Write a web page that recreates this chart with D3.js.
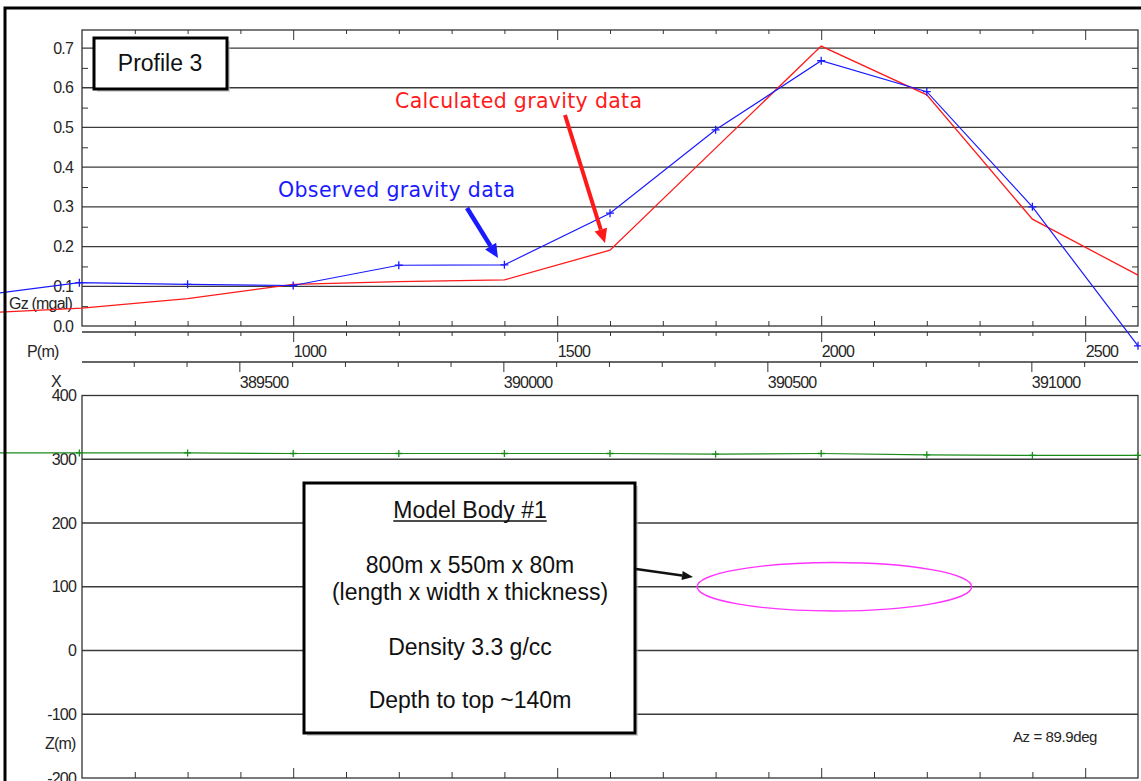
<!DOCTYPE html>
<html>
<head>
<meta charset="utf-8">
<script src="https://cdn.jsdelivr.net/npm/d3@7"></script>
<style>
  body { margin: 0; background: #fff; }
  svg { display: block; }
  .ax text { font-family: "Liberation Sans", Arial, sans-serif; font-size: 16px; letter-spacing: -0.8px; fill: #262626; }
  .ax line { stroke: #333; }
  .lbl { font-family: "Liberation Sans", Arial, sans-serif; font-size: 16px; letter-spacing: -0.8px; fill: #262626; }
  .note { font-family: "Liberation Sans", Arial, sans-serif; fill: #111; }
  .callout { font-family: "DejaVu Sans", Verdana, sans-serif; font-size: 20.5px; }
</style>
</head>
<body>
<div id="chart"></div>
<script>
// profile distance of the stations (m) and the gravity read at each one
const stationP = [400, 595, 800, 1000, 1200, 1400, 1600, 1800, 2000, 2200, 2400, 2600];
const observedGz = [0.076, 0.109, 0.105, 0.102, 0.153, 0.154, 0.284, 0.494, 0.668, 0.59, 0.30, -0.05];
const calcP = [400, 600, 800, 1000, 1200, 1400, 1600, 1800, 2000, 2200, 2400, 2600];
const calculatedGz = [0.032, 0.045, 0.069, 0.105, 0.112, 0.116, 0.191, 0.448, 0.705, 0.582, 0.269, 0.128];
// station elevation (m), same P as the observed data
const stationZ = [310, 310, 310, 309, 309, 309, 309, 308, 309, 307, 306, 306];

// tick labels
const gzTicks = [0, 0.1, 0.2, 0.3, 0.4, 0.5, 0.6, 0.7];
const zTicks = [-200, -100, 0, 100, 200, 300, 400];
const pTicks = [1000, 1500, 2000, 2500];
const xTicks = [389500, 390000, 390500, 391000];
const eastingOffset = 388602; // X = P + offset (Az = 89.9deg)

// model body: centre (P, Z) and half sizes (m)
const bodyCentre = [2025, 100];
const bodyHalf = [260, 38];
const bodyLines = ["Model Body #1", "800m x 550m x 80m", "(length x width x thickness)", "Density 3.3 g/cc", "Depth to top ~140m"];

const width = 1141, height = 781;
const left = 82, right = 1138;

const svg = d3.select("#chart").append("svg")
  .attr("width", width).attr("height", height);

const xP = d3.scaleLinear().domain([600, 2600]).range([left, right]);
const xX = d3.scaleLinear().domain([600 + eastingOffset, 2600 + eastingOffset]).range([left, right]);
const yG = d3.scaleLinear().domain([0, 0.7454]).range([326, 30]);
const yZ = d3.scaleLinear().domain([-200, 400]).range([778, 395.5]);

const pMinor = d3.range(700, 2600, 100).filter(v => !pTicks.includes(v));
const xMinor = d3.range(389300, 391200, 100).filter(v => !xTicks.includes(v));

// helper: add an axis, remove its domain path
function addAxis(gen, tx, ty) {
  const g = svg.append("g").attr("class", "ax").attr("transform", `translate(${tx},${ty})`).call(gen);
  g.select(".domain").remove();
  return g;
}

// ---- top panel (gravity) ----
svg.append("g").selectAll("line").data(gzTicks.slice(1)).join("line")
  .attr("x1", left).attr("x2", right)
  .attr("y1", d => yG(d)).attr("y2", d => yG(d))
  .attr("stroke", "#3a3a3a").attr("stroke-width", 1.3);

svg.append("rect").attr("x", left).attr("y", 30).attr("width", right - left).attr("height", 296)
  .attr("fill", "none").attr("stroke", "#333").attr("stroke-width", 1.3);

// minor ticks on the left and right edges
const gzMinor = d3.range(0.05, 0.75, 0.1);
addAxis(d3.axisRight(yG).tickValues(gzMinor).tickSize(6).tickFormat(""), left, 0);
addAxis(d3.axisLeft(yG).tickValues(gzMinor).tickSize(6).tickFormat(""), right, 0);
addAxis(d3.axisLeft(yG).tickValues(gzTicks).tickSize(0).tickPadding(9).tickFormat(d3.format(".1f")), left, 0);

// ticks on top and bottom edges of the gravity panel
addAxis(d3.axisBottom(xP).tickValues(pMinor).tickSize(4).tickFormat(""), 0, 30);
addAxis(d3.axisBottom(xP).tickValues(pTicks).tickSize(10).tickFormat(""), 0, 30);
addAxis(d3.axisTop(xP).tickValues(pMinor).tickSize(5).tickFormat(""), 0, 326);
addAxis(d3.axisTop(xP).tickValues(pTicks).tickSize(10).tickFormat(""), 0, 326);

// P(m) axis
svg.append("line").attr("x1", left).attr("x2", right).attr("y1", 332).attr("y2", 332).attr("stroke", "#333").attr("stroke-width", 1.3);
addAxis(d3.axisBottom(xP).tickValues(pMinor).tickSize(4).tickFormat(""), 0, 332);
addAxis(d3.axisBottom(xP).tickValues(pTicks).tickSize(10).tickPadding(4).tickFormat(d => String(d)), 0, 332)
  .selectAll("text").attr("text-anchor", "start").attr("x", 0);

// X axis (easting)
svg.append("line").attr("x1", left).attr("x2", right).attr("y1", 362).attr("y2", 362).attr("stroke", "#333").attr("stroke-width", 1.3);
addAxis(d3.axisBottom(xX).tickValues(xMinor).tickSize(5).tickFormat(""), 0, 362);
addAxis(d3.axisBottom(xX).tickValues(xTicks).tickSize(10).tickPadding(5).tickFormat(d => String(d)), 0, 362)
  .selectAll("text").attr("text-anchor", "start").attr("x", 0);

// ---- bottom panel (section) ----
svg.append("g").selectAll("line").data(zTicks.slice(1, -1)).join("line")
  .attr("x1", left).attr("x2", right)
  .attr("y1", d => yZ(d)).attr("y2", d => yZ(d))
  .attr("stroke", "#3a3a3a").attr("stroke-width", 1.3);
svg.append("rect").attr("x", left).attr("y", yZ(400)).attr("width", right - left).attr("height", yZ(-200) - yZ(400))
  .attr("fill", "none").attr("stroke", "#333").attr("stroke-width", 1.3);
addAxis(d3.axisLeft(yZ).tickValues(zTicks).tickSize(0).tickPadding(6).tickFormat(d => String(d)), left, 0);
addAxis(d3.axisTop(xP).tickValues(pMinor).tickSize(6).tickFormat(""), 0, yZ(-200));
addAxis(d3.axisTop(xP).tickValues(pTicks).tickSize(10).tickFormat(""), 0, yZ(-200));

// axis titles
svg.append("text").attr("class", "lbl").attr("x", 9).attr("y", 309).text("Gz (mgal)");
svg.append("text").attr("class", "lbl").attr("x", 27).attr("y", 357).text("P(m)");
svg.append("text").attr("class", "lbl").attr("x", 51).attr("y", 387).text("X");
svg.append("text").attr("class", "lbl").attr("x", 45).attr("y", 749).text("Z(m)");
svg.append("text").attr("class", "lbl").attr("x", 1013).attr("y", 742)
  .style("font-size", "15px").style("letter-spacing", "-0.4px").text("Az = 89.9deg");

// ---- data lines ----
const plus = (x, y, s) => `M${x - s},${y}h${2 * s}M${x},${y - s}v${2 * s}`;

const gzLine = d3.line().x(d => xP(d[0])).y(d => yG(d[1]));
svg.append("path").datum(d3.zip(calcP, calculatedGz)).attr("d", gzLine)
  .attr("fill", "none").attr("stroke", "#ff1a1a").attr("stroke-width", 1.3);
const obs = d3.zip(stationP, observedGz);
svg.append("path").datum(obs).attr("d", gzLine)
  .attr("fill", "none").attr("stroke", "#1a1aff").attr("stroke-width", 1.2);
svg.append("path").attr("d", obs.map(d => plus(xP(d[0]), yG(d[1]), 4)).join(""))
  .attr("stroke", "#1a1aff").attr("stroke-width", 1.3);

const topo = d3.zip(stationP, stationZ);
svg.append("path").datum(topo).attr("d", d3.line().x(d => xP(d[0])).y(d => yZ(d[1])))
  .attr("fill", "none").attr("stroke", "#1a8c1a").attr("stroke-width", 1.2);
svg.append("path").attr("d", topo.map(d => plus(xP(d[0]), yZ(d[1]), 3.5)).join(""))
  .attr("stroke", "#1a8c1a").attr("stroke-width", 1.3);

// model body
svg.append("ellipse")
  .attr("cx", xP(bodyCentre[0])).attr("cy", yZ(bodyCentre[1]))
  .attr("rx", xP(bodyCentre[0] + bodyHalf[0]) - xP(bodyCentre[0]))
  .attr("ry", yZ(bodyCentre[1] - bodyHalf[1]) - yZ(bodyCentre[1]))
  .attr("fill", "none").attr("stroke", "#ff33ff").attr("stroke-width", 1.4);

// ---- annotations ----
function arrow(x1, y1, x2, y2, color, w, hl, hw) {
  const a = Math.atan2(y2 - y1, x2 - x1);
  const bx = x2 - hl * Math.cos(a), by = y2 - hl * Math.sin(a);
  svg.append("line").attr("x1", x1).attr("y1", y1).attr("x2", bx).attr("y2", by)
    .attr("stroke", color).attr("stroke-width", w);
  const px = Math.sin(a) * hw / 2, py = -Math.cos(a) * hw / 2;
  svg.append("path").attr("d", `M${x2},${y2}L${bx + px},${by + py}L${bx - px},${by - py}Z`).attr("fill", color);
}

function box(x, y, w, h) {
  svg.append("rect").attr("x", x + 3).attr("y", y + 3).attr("width", w).attr("height", h)
    .attr("fill", "#bbb").attr("opacity", 0.6);
  svg.append("rect").attr("x", x).attr("y", y).attr("width", w).attr("height", h)
    .attr("fill", "#fff").attr("stroke", "#000").attr("stroke-width", 3);
}

box(94, 38, 133, 51);
svg.append("text").attr("class", "note").attr("x", 160).attr("y", 71)
  .attr("text-anchor", "middle").style("font-size", "23px").text("Profile 3");

svg.append("text").attr("class", "callout").attr("x", 395).attr("y", 108)
  .attr("fill", "#ff1a1a").attr("textLength", 247).attr("lengthAdjust", "spacing").text("Calculated gravity data");
arrow(565, 115, 605, 243, "#ff1a1a", 4, 14, 13);

svg.append("text").attr("class", "callout").attr("x", 278).attr("y", 197)
  .attr("fill", "#1a1aff").attr("textLength", 237).attr("lengthAdjust", "spacing").text("Observed gravity data");
arrow(467, 208, 498, 258, "#1a1aff", 4.5, 14, 13);

box(304, 483, 331, 250);
const bodyY = [518, 573, 600, 655, 708];
const cx = 470;
svg.append("g").selectAll("text").data(bodyLines).join("text")
  .attr("class", "note").attr("x", cx).attr("y", (d, i) => bodyY[i])
  .attr("text-anchor", "middle").style("font-size", "23px").text(d => d);
const titleLen = svg.selectAll("text.note").filter(d => d === bodyLines[0]).node().getComputedTextLength();
svg.append("line").attr("x1", cx - titleLen / 2).attr("x2", cx + titleLen / 2)
  .attr("y1", 521).attr("y2", 521).attr("stroke", "#111").attr("stroke-width", 1.3);
arrow(636, 569, 693, 577, "#111", 2.5, 11, 9);

// outer frame
svg.append("rect").attr("x", 5).attr("y", 8).attr("width", 1145).attr("height", 800)
  .attr("fill", "none").attr("stroke", "#000").attr("stroke-width", 3);
</script>
</body>
</html>
